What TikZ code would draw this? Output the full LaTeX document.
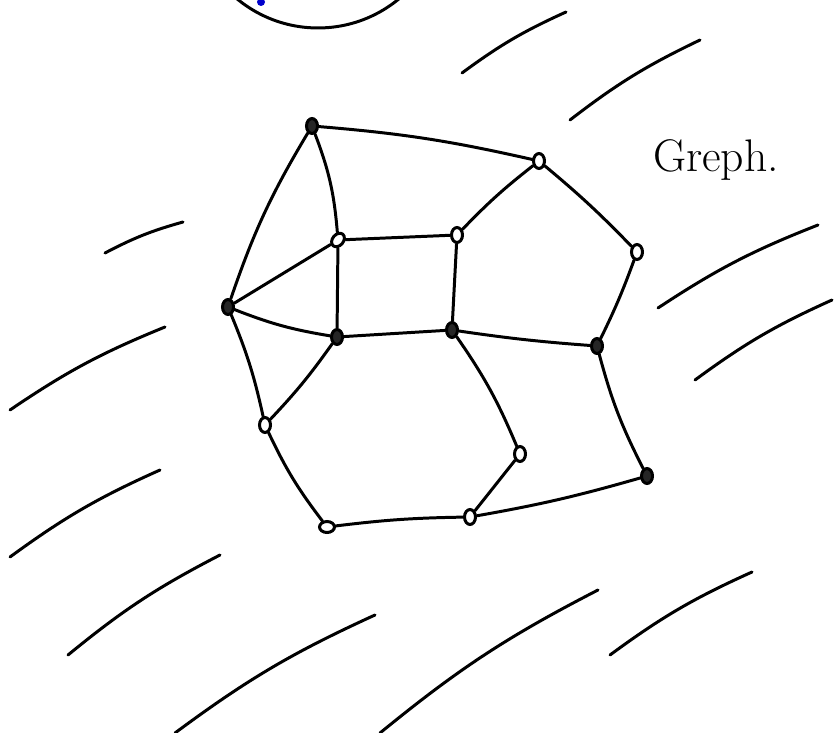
\documentclass[tikz,border=0pt]{standalone}
\usepackage{tikz}
\usetikzlibrary{shapes.geometric}

\begin{document}
\begin{tikzpicture}[
                x=0.02cm, y=-0.02cm,
                vertex/.style={ellipse, draw, line width=1.7pt, inner sep=0pt,
                               minimum width=0.22cm, minimum height=0.3cm, fill=white},
                vertexdark/.style={vertex, fill=black!85},
                edge/.style={line width=1.7pt, line cap=round},
                hatch/.style={line width=1.7pt, line cap=round}
            ]
                \useasboundingbox (0,0) rectangle (835,733);
                % the circle cut off at the top
                \begin{scope}
                    \clip (0,0) rectangle (835,733);
                    \draw[edge] (318,-99) circle[radius=2.54cm];
                    \fill[blue!80!black] (261,2) circle[radius=0.08cm];
                \end{scope}
                % hatching
                \draw[hatch] (462,73) to[bend left=6] (566,12);
                \draw[hatch] (570,120) to[bend left=6] (700,40);
                \draw[hatch] (105,253) to[bend left=6] (183,222);
                \draw[hatch] (658,308) to[bend left=6] (818,225);
                \draw[hatch] (695,380) to[bend left=6] (832,300);
                \draw[hatch] (10,410) to[bend left=6] (165,327);
                \draw[hatch] (10,557) to[bend left=6] (160,470);
                \draw[hatch] (68,655) to[bend left=6] (220,555);
                \draw[hatch] (610,655) to[bend left=6] (752,572);
                \draw[hatch] (175,733) to[bend left=6] (375,615);
                \draw[hatch] (380,733) to[bend left=6] (598,590);
                \node[font=\fontsize{26}{28}\selectfont] (title) at (716,160) {Greph.};
                % vertices
                \node[vertexdark] (a) at (312,126) {};
                \node[vertex] (b) at (539,161) {};
                \node[vertex] (c) at (637,252) {};
                \node[vertex, rotate=-40] (d) at (338,240) {};
                \node[vertex] (e) at (457,235) {};
                \node[vertexdark] (f) at (228,307) {};
                \node[vertexdark] (g) at (337,337) {};
                \node[vertexdark] (h) at (452,330) {};
                \node[vertexdark] (i) at (597,346) {};
                \node[vertex] (j) at (265,425) {};
                \node[vertex] (k) at (520,454) {};
                \node[vertexdark] (l) at (647,476) {};
                \node[vertex, rotate=90] (m) at (327,527) {};
                \node[vertex] (n) at (470,517) {};
                % edges
                \draw[edge] (a) to[bend left=4] (b);
                \draw[edge] (a) to[bend right=6] (f);
                \draw[edge] (a) to[bend left=8] (d);
                \draw[edge] (b) to[bend right=4] (e);
                \draw[edge] (b) to[bend left=3] (c);
                \draw[edge] (c) to[bend left=3] (i);
                \draw[edge] (d) -- (e);
                \draw[edge] (d) -- (f);
                \draw[edge] (d) -- (g);
                \draw[edge] (e) -- (h);
                \draw[edge] (f) to[bend right=6] (g);
                \draw[edge] (f) to[bend left=5] (j);
                \draw[edge] (g) to[bend left=4] (j);
                \draw[edge] (g) -- (h);
                \draw[edge] (h) to[bend right=2] (i);
                \draw[edge] (h) to[bend left=6] (k);
                \draw[edge] (i) to[bend right=6] (l);
                \draw[edge] (j) to[bend right=6] (m);
                \draw[edge] (m) to[bend left=3] (n);
                \draw[edge] (n) -- (k);
                \draw[edge] (n) to[bend right=3] (l);
            \end{tikzpicture}
\end{document}
